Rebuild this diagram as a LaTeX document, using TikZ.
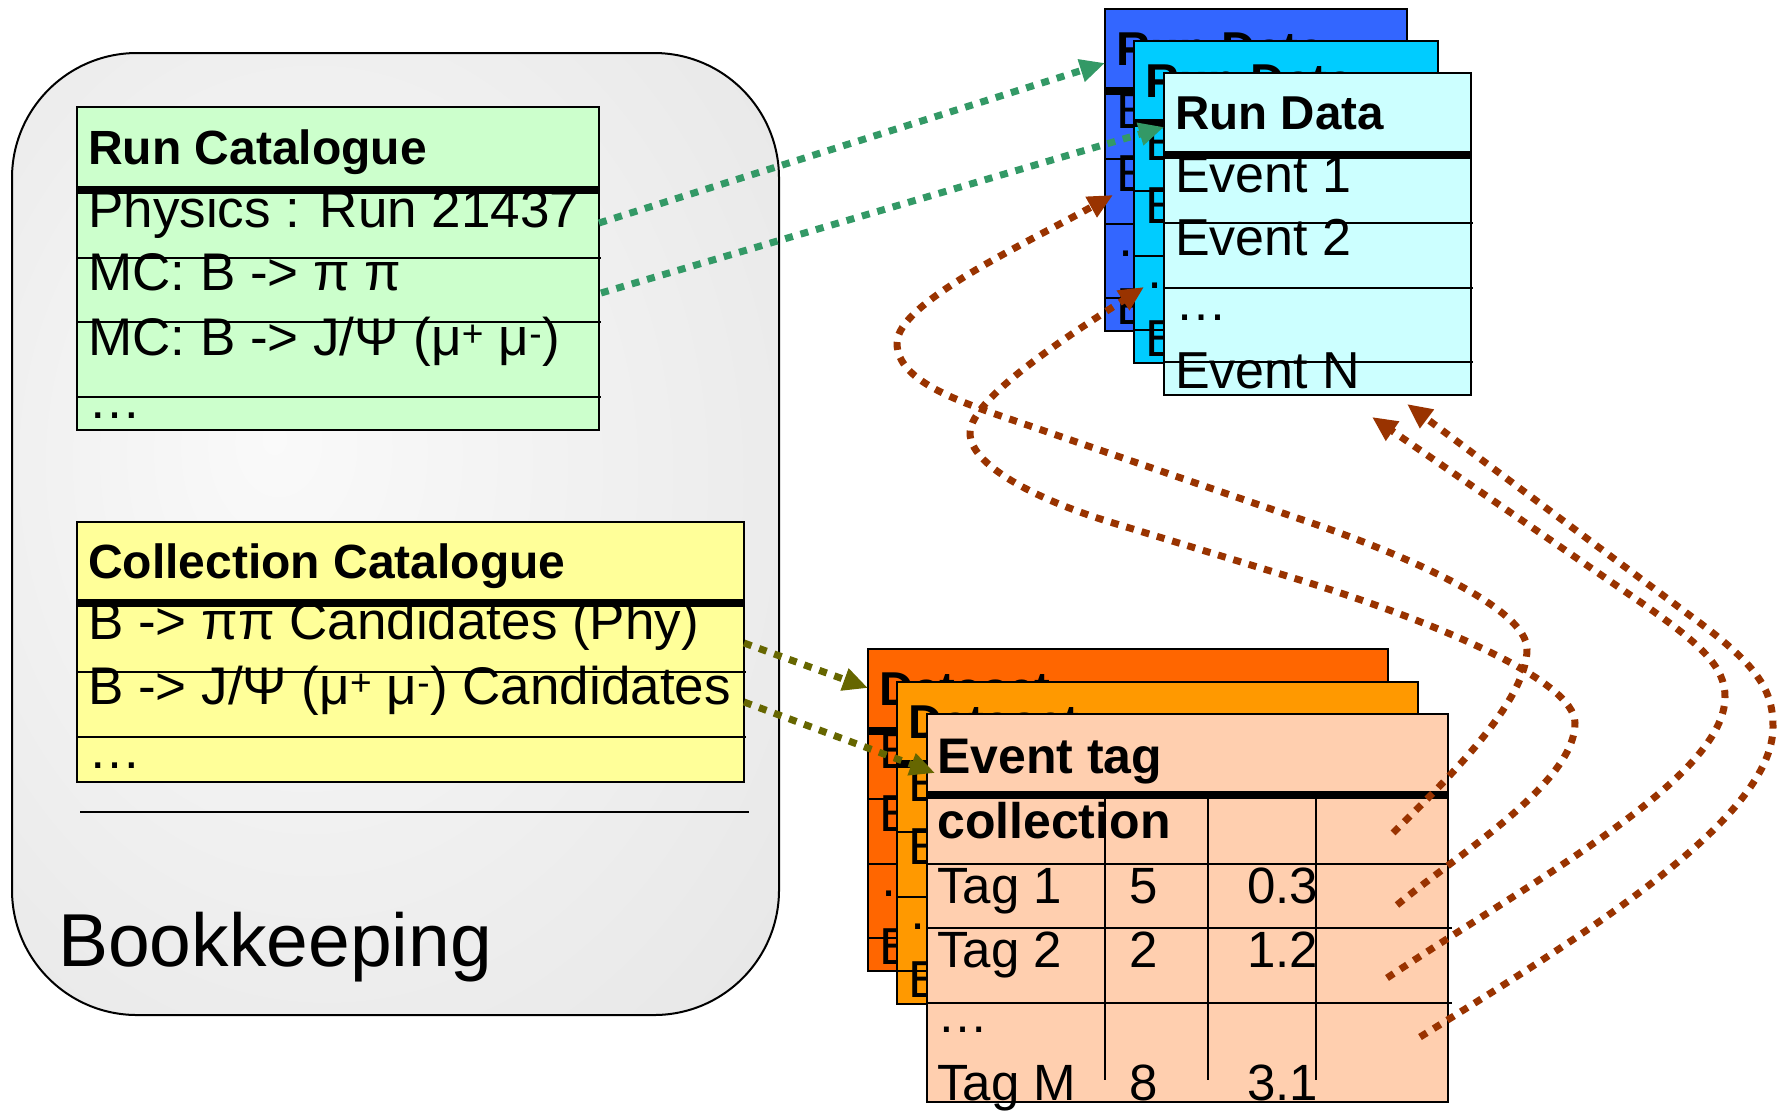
\documentclass[tikz,border=0pt]{standalone}
\usepackage{fontspec}
\setmainfont{Liberation Sans}
\usetikzlibrary{calc,arrows.meta}

\definecolor{rcgreen}{HTML}{CCFFCC}
\definecolor{ccyellow}{HTML}{FFFF99}
\definecolor{rdblue}{HTML}{3366FF}
\definecolor{rdcyan}{HTML}{00CCFF}
\definecolor{rdpale}{HTML}{CCFFFF}
\definecolor{dsred}{HTML}{FF6600}
\definecolor{dsorange}{HTML}{FF9900}
\definecolor{tagpeach}{HTML}{FFCFAF}
\definecolor{lnkgreen}{HTML}{339966}
\definecolor{lnkolive}{HTML}{666600}
\definecolor{lnkbrown}{HTML}{993300}

% soft light-centred grey for the bookkeeping panel
\pgfdeclareradialshading{bkshade}{\pgfpoint{-8bp}{5bp}}{color(0bp)=(white!98!black); color(62bp)=(white!86!black)}

% a stacked list card: header, heavy rule, four event rows
\newcommand{\eventcard}[6]{%
  \node[card, fill=#5, minimum width=#4bp, minimum height=322bp] (#1) at (#2,#3) {};
  \draw[thickrule] ($(#1.north west)+(0,82)$) -- ($(#1.north east)+(0,82)$);
  \foreach \dy in {150,215,289}{\draw[rowrule] ($(#1.north west)+(0,\dy)$) -- ($(#1.north east)+(2,\dy)$);}
  \node[hdrcard] at ($(#1.north west)+(11,56)$) {#6};
  \node[rowcard] at ($(#1.north west)+(11,119)$) {Event 1};
  \node[rowcard] at ($(#1.north west)+(11,182)$) {Event 2};
  \node[rowcard] at ($(#1.north west)+(11,247)$) {…};
  \node[rowcard] at ($(#1.north west)+(11,315)$) {Event N};
}

\begin{document}
\begin{tikzpicture}[x=1bp, y=-1bp,
  card/.style={draw=black, line width=2bp, anchor=north west, inner sep=0pt, outer sep=0pt},
  thickrule/.style={line width=8bp},
  rowrule/.style={line width=1.6bp},
  hdrcat/.style={anchor=base west, inner sep=0pt, font=\bfseries\fontsize{48bp}{56bp}\selectfont},
  rowcat/.style={anchor=base west, inner sep=0pt, font=\fontsize{53bp}{60bp}\selectfont},
  hdrcard/.style={anchor=base west, inner sep=0pt, font=\bfseries\fontsize{47.5bp}{54bp}\selectfont},
  rowcard/.style={anchor=base west, inner sep=0pt, font=\fontsize{52bp}{58bp}\selectfont},
  hdrtag/.style={anchor=base west, inner sep=0pt, font=\bfseries\fontsize{50bp}{58bp}\selectfont},
  rowtag/.style={anchor=base west, inner sep=0pt, font=\fontsize{51bp}{58bp}\selectfont},
  bigtxt/.style={anchor=base west, inner sep=0pt, font=\fontsize{75bp}{85bp}\selectfont},
  link/.style={line width=7bp, dash pattern=on 8bp off 8bp, -{Triangle[length=25bp,width=22bp]}},
]
\useasboundingbox (0,0) rectangle (1783,1111);

% ---------- bookkeeping panel ----------
\node[draw=black, line width=2bp, rounded corners=125bp, shade, shading=bkshade,
      anchor=north west, inner sep=0pt, outer sep=0pt,
      minimum width=767bp, minimum height=962bp] (bk) at (12,53) {};
\draw[line width=2bp] (80,812) -- (749,812);
\node[bigtxt] (bktxt) at (58,966) {Bookkeeping};

% run catalogue
\node[card, fill=rcgreen, minimum width=522bp, minimum height=323bp] (rc) at (77,107) {};
\draw[thickrule] ($(rc.north west)+(0,83)$) -- ($(rc.north east)+(0,83)$);
\foreach \dy in {151,215,290}{\draw[rowrule] ($(rc.north west)+(0,\dy)$) -- ($(rc.north east)+(2,\dy)$);}
\node[hdrcat] (rch) at (88,164) {Run Catalogue};
\node[rowcat] (rc1) at (88,227) {Physics : Run 21437};
\node[rowcat] (rc2) at (88,290) {MC: B -> π π};
\node[rowcat] (rc3) at (88,355) {MC: B -> J/Ψ (μ\textsuperscript{+} μ\textsuperscript{-})};
\node[rowcat] (rc4) at (88,418) {…};

% collection catalogue
\node[card, fill=ccyellow, minimum width=667bp, minimum height=260bp] (cc) at (77,522) {};
\draw[thickrule] ($(cc.north west)+(0,81)$) -- ($(cc.north east)+(0,81)$);
\foreach \dy in {150,215}{\draw[rowrule] ($(cc.north west)+(0,\dy)$) -- ($(cc.north east)+(2,\dy)$);}
\node[hdrcat] (cch) at (88,578) {Collection Catalogue};
\node[rowcat] (cc1) at (88,639) {B -> ππ Candidates (Phy)};
\node[rowcat] (cc2) at (88,704) {B -> J/Ψ (μ\textsuperscript{+} μ\textsuperscript{-}) Candidates};
\node[rowcat] (cc3) at (88,768) {…};

% ---------- run data stack ----------
\eventcard{rdA}{1105}{9}{302}{rdblue}{Run Data}
\eventcard{rdB}{1134}{41}{304}{rdcyan}{Run Data}
\eventcard{rdC}{1164}{73}{307}{rdpale}{Run Data}

% ---------- dataset stack and event tag collection ----------
\eventcard{dsA}{868}{649}{520}{dsred}{Dataset}
\eventcard{dsB}{897}{682}{521}{dsorange}{Dataset}

\node[card, fill=tagpeach, minimum width=521bp, minimum height=388bp] (tag) at (927,714) {};
\draw[thickrule] ($(tag.north west)+(0,81)$) -- ($(tag.north east)+(0,81)$);
\foreach \dy in {150,214,289}{\draw[rowrule] ($(tag.north west)+(0,\dy)$) -- ($(tag.north east)+(4,\dy)$);}
\foreach \xx in {178,281,389}{\draw[rowrule] ($(tag.north west)+(\xx,85)$) -- ($(tag.north west)+(\xx,366)$);}
\node[hdrtag] (tgh1) at (937,773) {Event tag};
\node[hdrtag] (tgh2) at (937,838) {collection};
\node[rowtag] at (937,903) {Tag 1};
\node[rowtag] at (1129,903) {5};
\node[rowtag] at (1247,903) {0.3};
\node[rowtag] at (937,967) {Tag 2};
\node[rowtag] at (1129,967) {2};
\node[rowtag] at (1247,967) {1.2};
\node[rowtag] at (937,1032) {…};
\node[rowtag] at (937,1100) {Tag M};
\node[rowtag] at (1129,1100) {8};
\node[rowtag] at (1247,1100) {3.1};

% ---------- link end points ----------
\coordinate (g1) at ($(rc.north east)+(0,116)$);
\coordinate (g2) at ($(rc.north east)+(2,186)$);
\coordinate (gt1) at ($(rdA.north west)+(0,54)$);
\coordinate (gt2) at ($(rdC.north west)+(0,54)$);
\coordinate (o1) at ($(cc.north east)+(0,121)$);
\coordinate (o2) at ($(cc.north east)+(0,180)$);
\coordinate (ot1) at ($(dsA.north west)+(0,39)$);
\coordinate (ot2) at ($(tag.north west)+(8,59)$);
\coordinate (s1) at ($(tag.north west)+(466,119)$);
\coordinate (s2) at ($(tag.north west)+(470,191)$);
\coordinate (s3) at ($(tag.north west)+(460,264)$);
\coordinate (s4) at ($(tag.north west)+(493,323)$);
\coordinate (t1) at ($(rdA.north west)+(8,186)$);
\coordinate (t2) at ($(rdB.north west)+(10,246)$);
\coordinate (t3) at ($(rdC.north west)+(208,344)$);
\coordinate (t4) at ($(rdC.north west)+(243,331)$);

% catalogue -> run data
\draw[link, lnkgreen] (g1) -- (gt1);
\draw[link, lnkgreen] (g2) -- (gt2);

% collection -> datasets
\draw[link, lnkolive] (o1) -- (ot1);
\draw[link, lnkolive] (o2) -- (ot2);

% tags -> events
\draw[link, lnkbrown] (s1) .. controls +(45,-45) and +(0,55) .. (1527,649)
  .. controls +(0,-40) and +(110,37) .. (1300,519)
  -- (1033,427)
  .. controls +(-70,-24) and +(0,40) .. (897,343)
  .. controls +(0,-40) and +(-90,50) .. (t1);
\draw[link, lnkbrown] (s2) .. controls +(60,-50) and +(0,60) .. (1575,723)
  .. controls +(0,-45) and +(120,37) .. (1300,580)
  -- (1110,522)
  .. controls +(-75,-23) and +(0,32) .. (970,433)
  .. controls +(0,-35) and +(-70,45) .. (t2);
\draw[link, lnkbrown] (s3) .. controls +(150,-100) and +(0,80) .. (1725,697)
  .. controls +(0,-30) and +(70,48) .. (1633,597)
  -- (t3);
\draw[link, lnkbrown] (s4) .. controls +(170,-105) and +(0,90) .. (1773,727)
  .. controls +(0,-35) and +(60,45) .. (1700,623)
  -- (t4);
\end{tikzpicture}
\end{document}
